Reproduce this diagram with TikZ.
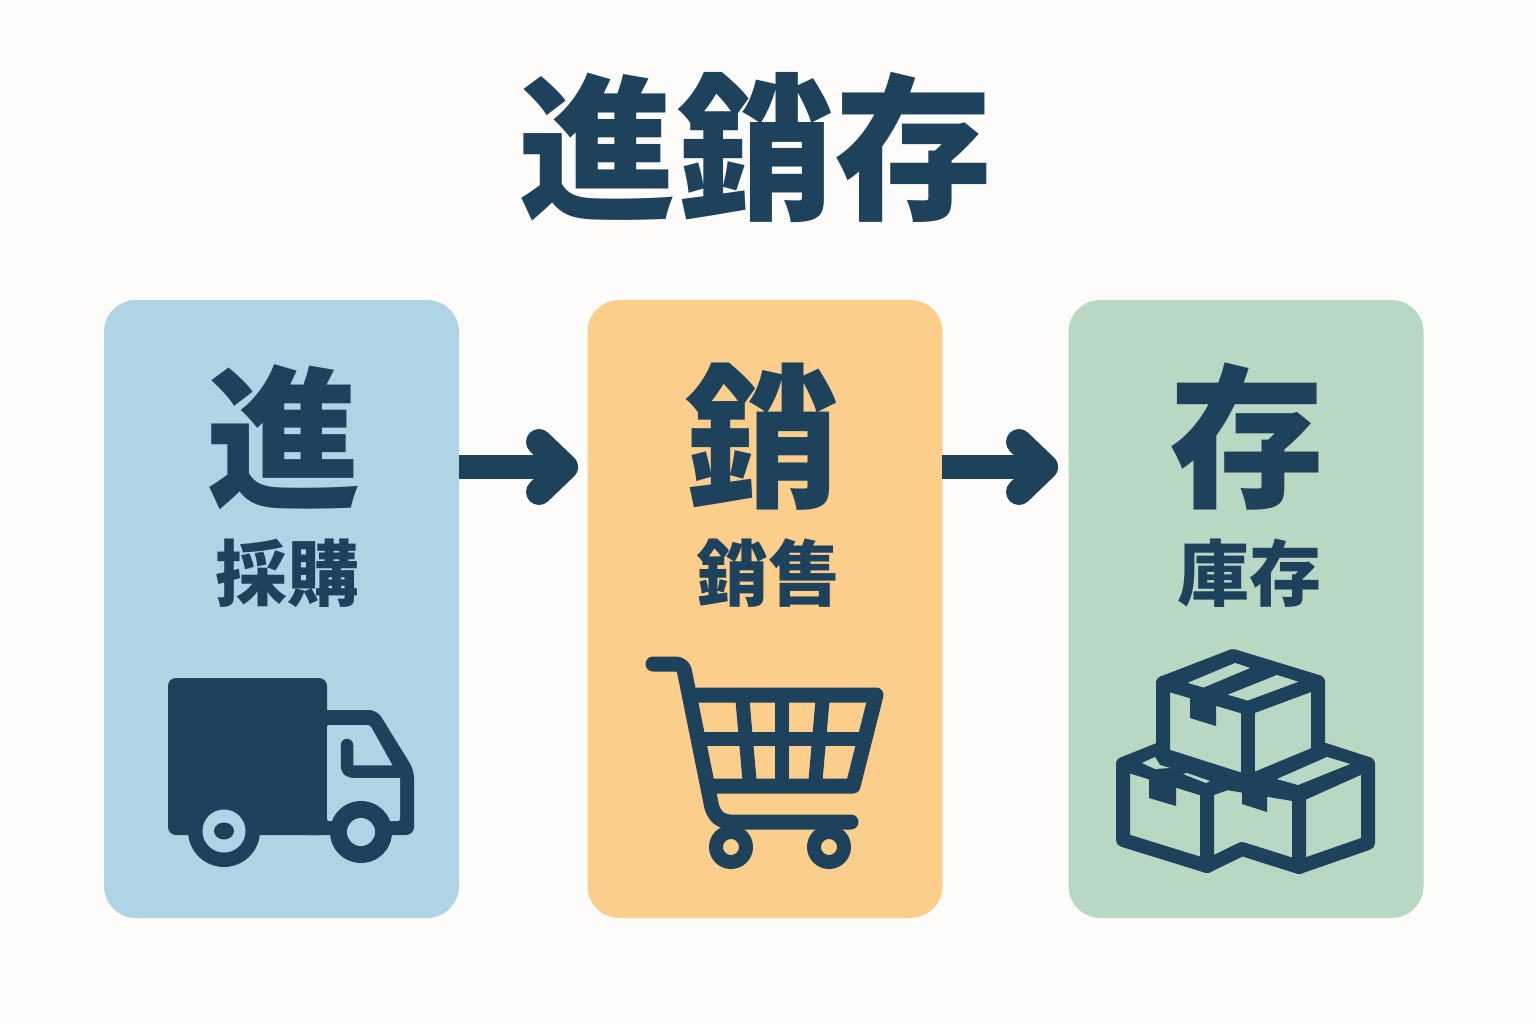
\documentclass[tikz,border=0pt]{standalone}
\usepackage{fontspec}
\usetikzlibrary{arrows.meta}
\setmainfont{Noto Sans CJK JP}
\newfontfamily\heavyface{Noto Sans CJK JP Black}
\definecolor{fond}{HTML}{FDFCFA}
\definecolor{ink}{HTML}{1E425C}
\definecolor{sky}{HTML}{AED4E6}
\definecolor{peach}{HTML}{FBCE8C}
\definecolor{sage}{HTML}{B8D8C4}

\begin{document}
\begin{tikzpicture}[
    x=1pt, y=-1pt,
    text = ink,
    card/.style={rounded corners=32pt, minimum width=355pt, minimum height=618pt, inner sep=0pt},
    headline/.style={font=\fontsize{158}{158}\heavyface, inner sep=0pt},
    bigchar/.style={font=\fontsize{155}{155}\heavyface, inner sep=0pt},
    subword/.style={font=\fontsize{72}{72}\selectfont\bfseries, inner sep=0pt},
    flow/.style={draw=ink, line width=24pt, shorten >=3pt, -{Straight Barb[round,length=26pt,width=50pt,line width=26pt]}},
    icon/.style={draw=ink, line width=14pt, line join=round, line cap=round}
    ]

    \fill[fond] (0,0) rectangle (1536,1024);
    \useasboundingbox (0,0) rectangle (1536,1024);

    \node [headline] (title) at (755,147) {進銷存};

    \node [card, fill=sky] (purchase) at (281.5,609) {};
    \node [card, fill=peach] (sales) at (765,609) {};
    \node [card, fill=sage] (stock) at (1246,609) {};

    \node [bigchar] (jin) at (284,437) {進};
    \node [bigchar] (xiao) at (762,437) {銷};
    \node [bigchar] (cun) at (1247,437) {存};
    \node [subword] (caigou) at (287,573) {採購};
    \node [subword] (xiaoshou) at (768,573) {銷售};
    \node [subword] (kucun) at (1249,573) {庫存};

    % arrows between the cards
    \coordinate (purchaseout) at (459,467);
    \coordinate (salesin) at (581,467);
    \coordinate (salesout) at (942,467);
    \coordinate (stockin) at (1061,467);
    \draw [flow] (purchaseout) -- (salesin);
    \draw [flow] (salesout) -- (stockin);

    % truck
    \fill[ink, rounded corners=8pt] (168,678) -- (327,678) -- (327,835) -- (168,835) -- cycle;
    \fill[ink, rounded corners=8pt] (300,710) -- (377,710) -- (414,770) -- (414,835) -- (300,835) -- cycle;
    \fill[sky, rounded corners=2pt] (327,725) -- (370,725) -- (394,768) -- (400,768) -- (400,821) -- (327,821) -- cycle;
    \draw[icon, line width=12.5pt, line cap=butt, rounded corners=5pt] (347,745) -- (347,771.5) -- (404,771.5);
    \fill[ink] (347,745) circle (6.2pt);
    \fill[ink] (361,832) circle (31pt);
    \fill[sky] (361,832) circle (14pt);
    \fill[ink] (224,831) circle (36pt);
    \fill[sky] (224,831) circle (21.5pt);
    \fill[ink] (224,831) ellipse (10pt and 8.5pt);

    % cart
    \draw[icon, line width=15pt, rounded corners=7pt] (653,664) -- (683,664) -- (713,813) -- (723,822) -- (851,822);
    \draw[icon, line width=15pt] (692,695) -- (876,695) -- (853,786) -- (712,786);
    \draw[icon, line cap=butt] (700,739) -- (865,739);
    \draw[icon, line cap=butt] (742,695) -- (750,786);
    \draw[icon, line cap=butt] (782,695) -- (782,786);
    \draw[icon, line cap=butt] (823,695) -- (815,786);
    \draw[icon, fill=peach] (731,847) circle (15pt);
    \draw[icon, fill=peach] (829,847) circle (15pt);

    % boxes
    \fill[ink] (1123,762) -- (1165,745) -- (1227,783) -- (1207,790) -- cycle;
    \fill[ink] (1318,753) -- (1368,762) -- (1299,795) -- (1248,782) -- cycle;
    \draw[icon] (1163,748) -- (1123,764) -- (1123,840) -- (1207,866) -- (1242,849) -- (1299,867) -- (1368,843) -- (1368,764) -- (1325,750);
    \draw[icon] (1123,764) -- (1207,790) -- (1207,866);
    \draw[icon] (1207,790) -- (1227,783) -- (1299,795) -- (1299,867);
    \draw[icon] (1299,795) -- (1368,764);
    \fill[sage] (1142,763) -- (1155,757) -- (1160,765) -- (1170,768) -- (1155,769) -- cycle;
    \fill[sage] (1183,774) -- (1187,773) -- (1210,781) -- (1206,783) -- cycle;
    \fill[sage] (1277,779) -- (1327,757) -- (1350,764) -- (1298,785) -- cycle;
    \fill[ink] (1149,773) -- (1176,785) -- (1176,806) -- (1149,798) -- cycle;
    \fill[ink] (1242,787) -- (1267,790) -- (1267,812) -- (1242,804) -- cycle;
    \draw[icon, fill=sage] (1233,656) -- (1318,682) -- (1318,753) -- (1248,782) -- (1163,755) -- (1163,683) -- cycle;
    \fill[ink] (1163,683) -- (1233,656) -- (1318,682) -- (1248,708) -- cycle;
    \fill[sage] (1185,684) -- (1235,663) -- (1250,668) -- (1200,689) -- cycle;
    \fill[sage] (1227,695) -- (1277,675) -- (1299,682) -- (1248,702) -- cycle;
    \draw[icon] (1163,683) -- (1248,708) -- (1318,682);
    \draw[icon] (1248,708) -- (1248,782);
    \fill[ink] (1190,692) -- (1216,700) -- (1216,726) -- (1190,718) -- cycle;
\end{tikzpicture}
\end{document}
